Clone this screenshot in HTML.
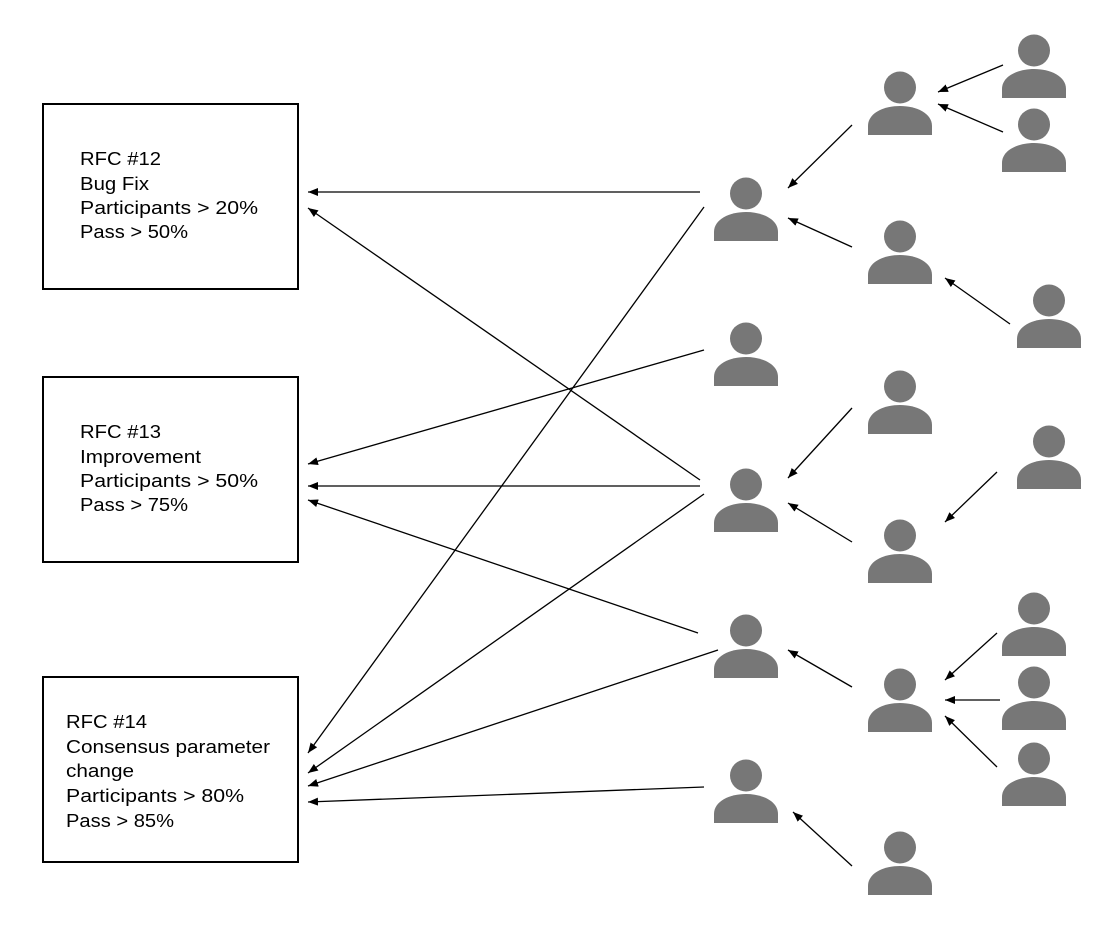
<!DOCTYPE html>
<html><head><meta charset="utf-8"><style>
html,body{margin:0;padding:0;background:#fff;}
svg{display:block;}
text{font-family:"Liberation Sans",Arial,sans-serif;font-size:18px;fill:#000;}
</style></head><body>
<svg width="1104" height="926" viewBox="0 0 1104 926" xmlns="http://www.w3.org/2000/svg">
<defs>
<marker id="a" viewBox="0 0 10 8" refX="10" refY="4" markerWidth="10" markerHeight="8" markerUnits="userSpaceOnUse" orient="auto">
<path d="M0,0 L10,4 L0,8 Z" fill="#000"/></marker>
<g id="p"><circle cx="0" cy="16.5" r="16" fill="#777"/><path d="M-32,64 V55 C-32,42 -16,35 0,35 C16,35 32,42 32,55 V64 Z" fill="#777"/></g>
</defs>
<g fill="none" stroke="#000" stroke-width="2">
<rect x="43" y="104" width="255" height="185"/>
<rect x="43" y="377" width="255" height="185"/>
<rect x="43" y="677" width="255" height="185"/>
</g>
<g lengthAdjust="spacingAndGlyphs">
<text x="80" y="165" textLength="81" lengthAdjust="spacingAndGlyphs">RFC #12</text>
<text x="80" y="190" textLength="69" lengthAdjust="spacingAndGlyphs">Bug Fix</text>
<text x="80" y="214" textLength="178" lengthAdjust="spacingAndGlyphs">Participants &gt; 20%</text>
<text x="80" y="238" textLength="108" lengthAdjust="spacingAndGlyphs">Pass &gt; 50%</text>
<text x="80" y="438" textLength="81" lengthAdjust="spacingAndGlyphs">RFC #13</text>
<text x="80" y="463" textLength="121" lengthAdjust="spacingAndGlyphs">Improvement</text>
<text x="80" y="487" textLength="178" lengthAdjust="spacingAndGlyphs">Participants &gt; 50%</text>
<text x="80" y="511" textLength="108" lengthAdjust="spacingAndGlyphs">Pass &gt; 75%</text>
<text x="66" y="728" textLength="81" lengthAdjust="spacingAndGlyphs">RFC #14</text>
<text x="66" y="753" textLength="204" lengthAdjust="spacingAndGlyphs">Consensus parameter</text>
<text x="66" y="777" textLength="68" lengthAdjust="spacingAndGlyphs">change</text>
<text x="66" y="802" textLength="178" lengthAdjust="spacingAndGlyphs">Participants &gt; 80%</text>
<text x="66" y="827" textLength="108" lengthAdjust="spacingAndGlyphs">Pass &gt; 85%</text>
</g>

<use href="#p" x="746" y="177"/>
<use href="#p" x="746" y="322"/>
<use href="#p" x="746" y="468"/>
<use href="#p" x="746" y="614"/>
<use href="#p" x="746" y="759"/>
<use href="#p" x="900" y="71"/>
<use href="#p" x="900" y="220"/>
<use href="#p" x="900" y="370"/>
<use href="#p" x="900" y="519"/>
<use href="#p" x="900" y="668"/>
<use href="#p" x="900" y="831"/>
<use href="#p" x="1034" y="34"/>
<use href="#p" x="1034" y="108"/>
<use href="#p" x="1049" y="284"/>
<use href="#p" x="1049" y="425"/>
<use href="#p" x="1034" y="592"/>
<use href="#p" x="1034" y="666"/>
<use href="#p" x="1034" y="742"/>

<g stroke="#000" stroke-width="1.3" marker-end="url(#a)">
<line x1="700" y1="192" x2="308" y2="192"/>
<line x1="700" y1="480" x2="308" y2="208"/>
<line x1="704" y1="207" x2="308" y2="753"/>
<line x1="704" y1="350" x2="308" y2="464"/>
<line x1="700" y1="486" x2="308" y2="486"/>
<line x1="704" y1="494" x2="308" y2="773"/>
<line x1="698" y1="633" x2="308" y2="500"/>
<line x1="718" y1="650" x2="308" y2="786"/>
<line x1="704" y1="787" x2="308" y2="802"/>
<line x1="852" y1="125" x2="788" y2="188"/>
<line x1="852" y1="247" x2="788" y2="218"/>
<line x1="1003" y1="65" x2="938" y2="92"/>
<line x1="1003" y1="132" x2="938" y2="104"/>
<line x1="1010" y1="324" x2="945" y2="278"/>
<line x1="852" y1="408" x2="788" y2="478"/>
<line x1="852" y1="542" x2="788" y2="503"/>
<line x1="997" y1="472" x2="945" y2="522"/>
<line x1="852" y1="687" x2="788" y2="650"/>
<line x1="997" y1="633" x2="945" y2="680"/>
<line x1="1000" y1="700" x2="945" y2="700"/>
<line x1="997" y1="767" x2="945" y2="716"/>
<line x1="852" y1="866" x2="793" y2="812"/>
</g>
</svg>
</body></html>
